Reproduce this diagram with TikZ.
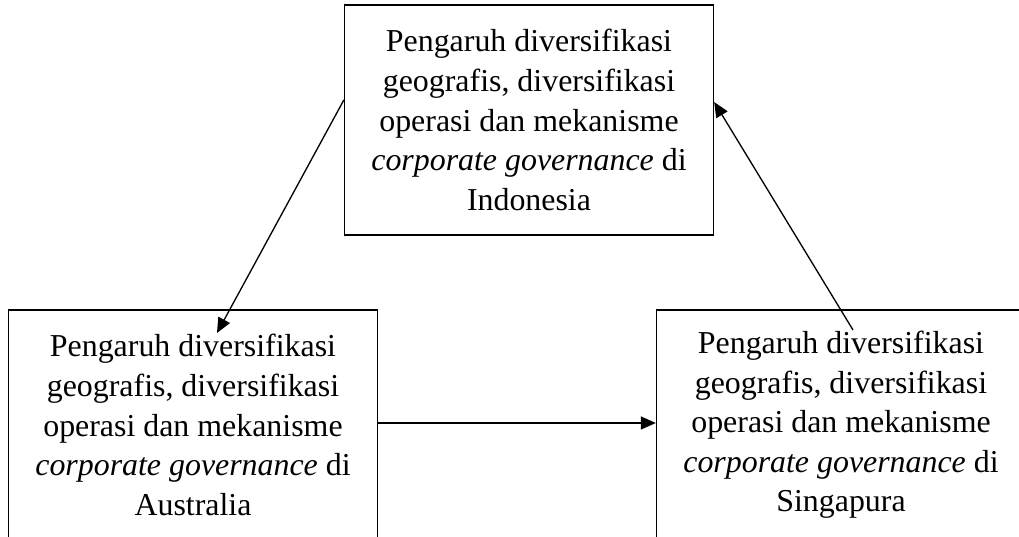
\documentclass[tikz,border=0pt]{standalone}
\usepackage{fontspec}
\setmainfont{Liberation Serif}
\usetikzlibrary{arrows.meta,calc,positioning}

\tikzset{
  studybox/.style={draw,line width=0.75pt,minimum width=7.38cm,minimum height=4.6cm,
    align=center,inner sep=0pt,font=\fontsize{18.15}{22.5}\selectfont},
  flow/.style={line width=0.75pt,-{Triangle[length=0.3cm,width=0.26cm]}}
}

\begin{document}
\begin{tikzpicture}
        \useasboundingbox (0,0) rectangle (20.38,10.74);
        \node[studybox] (ind) at (10.58,8.34) {Pengaruh diversifikasi\\geografis, diversifikasi\\operasi dan mekanisme\\\textit{corporate governance} di\\Indonesia};
        \node[studybox] (aus) at (3.86,2.24) {Pengaruh diversifikasi\\geografis, diversifikasi\\operasi dan mekanisme\\\textit{corporate governance} di\\Australia};
        \node[studybox] (sgp) at (16.82,2.24) {Pengaruh diversifikasi\\geografis, diversifikasi\\operasi dan mekanisme\\\textit{corporate governance} di\\Singapura};
        \draw[flow] ($(ind.west)+(0,0.4)$) -- ($(aus.center)+(0.48,1.84)$);
        \draw[flow] ($(aus.east)+(0,0.04)$) -- ($(sgp.west)+(0,0.04)$);
        \draw[flow] ($(sgp.center)+(0.24,1.9)$) -- ($(ind.east)+(0,0.36)$);
      \end{tikzpicture}
\end{document}
